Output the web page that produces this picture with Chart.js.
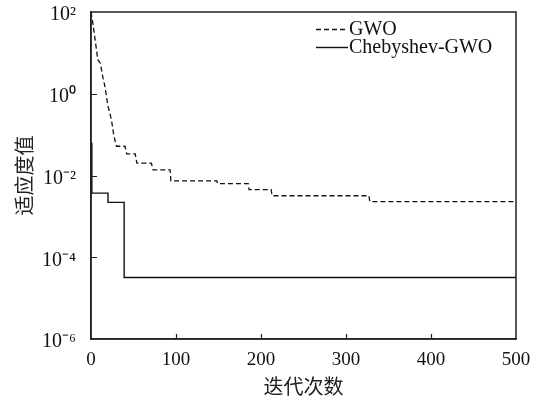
<!DOCTYPE html>
<html><head><meta charset="utf-8">
<script src="https://cdn.jsdelivr.net/npm/chart.js@4/dist/chart.umd.min.js"></script>
<style>html,body{margin:0;padding:0;background:#fff}#wrap{width:537px;height:405px;position:relative}</style>
</head><body><div id="wrap"><canvas id="c"></canvas></div>
<script>
// ---- data ----
const gwoIter = [0, 2, 5, 8, 11, 14, 16, 20, 24, 27, 30, 40, 42, 52, 54, 71, 73, 93, 94, 148, 149, 185, 186, 212, 213, 327, 328, 500];
const gwoVal  = [100, 56, 20, 6.8, 5.6, 2.5, 1.66, 0.5, 0.234, 0.091, 0.052, 0.052, 0.0339, 0.0339, 0.02, 0.02, 0.0138, 0.0138, 0.0074, 0.0074, 0.0063, 0.0063, 0.0045, 0.0045, 0.0032, 0.0032, 0.0023, 0.0023];
const chebIter = [0, 1, 20, 20, 39, 39, 500];
const chebVal  = [0.063, 0.0037, 0.0037, 0.0022, 0.0022, 3.2e-5, 3.2e-5];
const seriesNames = ['GWO', 'Chebyshev-GWO'];
const xTicks = [0, 100, 200, 300, 400, 500];
const yTicks = [1e-6, 1e-4, 1e-2, 1, 1e2];
const yTickLabels = ['10⁻⁶', '10⁻⁴', '10⁻²', '10⁰', '10²'];
const xTitle = '迭代次数';
const yTitle = '适应度值';

const serif = "'Liberation Serif','Times New Roman',serif";
const cjk = "'Noto Sans CJK SC',sans-serif";
const ink = '#222';

const toPts = (xs, ys) => xs.map((x, i) => ({x: x, y: ys[i]}));

const framePlugin = {
  id: 'frame',
  afterDraw(chart) {
    const ctx = chart.ctx, a = chart.chartArea;
    ctx.save();
    ctx.strokeStyle = ink; ctx.lineWidth = 1.5;
    ctx.strokeRect(a.left, a.top, a.right - a.left, a.bottom - a.top);
    // inward tick marks
    const xs = chart.scales.x, ys = chart.scales.y;
    ctx.beginPath();
    xTicks.forEach(v => { const p = Math.round(xs.getPixelForValue(v)) + 0.5; if (v > 0 && v < 500) { ctx.moveTo(p, a.bottom); ctx.lineTo(p, a.bottom - 5); } });
    yTicks.forEach(v => { const p = Math.round(ys.getPixelForValue(v)) + 0.5; if (v > 1e-6 && v < 1e2) { ctx.moveTo(a.left, p); ctx.lineTo(a.left + 6, p); } });
    ctx.lineWidth = 1.2;
    ctx.stroke();
    // legend
    const items = chart.data.datasets;
    const lx0 = 316, lx1 = 348, ly = [29, 47];
    ctx.font = '20px ' + serif;
    ctx.textBaseline = 'middle';
    ctx.fillStyle = '#111';
    items.forEach((ds, i) => {
      ctx.beginPath();
      ctx.setLineDash(ds.borderDash || []);
      ctx.lineWidth = ds.borderWidth;
      ctx.strokeStyle = ds.borderColor;
      ctx.moveTo(lx0, ly[i] + 0.5); ctx.lineTo(lx1, ly[i] + 0.5);
      ctx.stroke();
      ctx.setLineDash([]);
      ctx.fillText(ds.label, lx1 + 1, ly[i] + 1);
    });
    ctx.restore();
  }
};

new Chart(document.getElementById('c'), {
  type: 'line',
  data: {
    datasets: [
      { label: seriesNames[0], data: toPts(gwoIter, gwoVal), borderColor: '#111', borderWidth: 1.3, borderDash: [5, 3], pointRadius: 0, tension: 0, fill: false },
      { label: seriesNames[1], data: toPts(chebIter, chebVal), borderColor: '#111', borderWidth: 1.4, pointRadius: 0, tension: 0, fill: false }
    ]
  },
  options: {
    responsive: true,
    maintainAspectRatio: false,
    animation: false,
    devicePixelRatio: 1,
    layout: { padding: { top: 12, right: 21, left: 0, bottom: 0 } },
    plugins: { legend: { display: false }, tooltip: { enabled: false } },
    scales: {
      x: {
        type: 'linear', min: 0, max: 500,
        afterBuildTicks: s => { s.ticks = xTicks.map(v => ({value: v})); },
        afterFit: s => { s.height = 66; s.paddingLeft = 0; s.paddingRight = 0; },
        grid: { display: false, drawTicks: false },
        border: { display: true, color: ink, width: 1.5 },
        ticks: { color: '#111', font: { family: serif, size: 19 }, padding: 10, maxRotation: 0 },
        title: { display: true, text: xTitle, color: '#222', font: { family: cjk, size: 20 }, padding: { top: 0, bottom: 7 } }
      },
      y: {
        type: 'logarithmic', min: 1e-6, max: 1e2,
        afterBuildTicks: s => { s.ticks = yTicks.map(v => ({value: v})); },
        afterFit: s => { s.width = 91; s.paddingTop = 0; s.paddingBottom = 0; },
        grid: { display: false, drawTicks: false },
        border: { display: true, color: ink, width: 1.5 },
        ticks: { color: '#111', font: { family: serif, size: 20 }, padding: 15, labelOffset: 3,
          callback: (v) => { const i = yTicks.findIndex(t => Math.abs(Math.log10(t) - Math.log10(v)) < 1e-6); return i >= 0 ? yTickLabels[i] : ''; } },
        title: { display: true, text: yTitle, color: '#222', font: { family: cjk, size: 20 }, padding: { top: 12, bottom: 0 } }
      }
    }
  },
  plugins: [framePlugin]
});
</script>
</body></html>
